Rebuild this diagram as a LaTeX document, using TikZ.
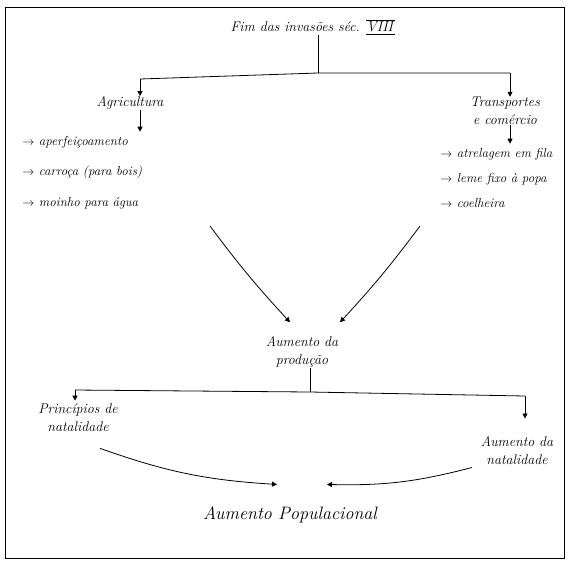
\documentclass[tikz,border=0pt]{standalone}
\usepackage{amsmath}
\usepackage{amssymb}
\usepackage{tikz}
\usetikzlibrary{arrows.meta}

\begin{document}
\begin{tikzpicture}[x=1pt,y=-1pt,line width=0.8pt,
  arr/.style={-{Triangle[length=5pt,width=5pt]}},
  txt/.style={font=\itshape\fontsize{14}{18}\selectfont,align=center},
  item/.style={font=\itshape\fontsize{13}{15}\selectfont,anchor=west}]
\tikzstyle{every node}+=[inner sep=0pt]
\useasboundingbox (0,0) rectangle (569,563);
\draw [black] (5,7) rectangle (564,558);
\node [txt] (fim) at (313,27) {Fim das invas\~oes s\'ec. $\underline{\overline{\mathit{VIII}}}$};
\coordinate (jtop) at (318,73);
\coordinate (jagri) at (140,79);
\coordinate (jtrans) at (510,73);
\draw [black] (fim.south -| jtop) -- (jtop);
\draw [black] (jagri) -- (jtop) -- (jtrans);
\node [txt] (agri) at (130,103) {Agricultura};
\node [txt] (trans) at (505,111) {Transportes\\e com\'ercio};
\draw [black,arr] (jagri) -- (agri.north -| jagri);
\draw [black,arr] (jtrans) -- (trans.north -| jtrans);
\node [item] (aper) at (22,142) {$\to$ aperfei\c coamento};
\node [item] (carr) at (22,172) {$\to$ carro\c ca (para bois)};
\node [item] (moin) at (22,203) {$\to$ moinho para \'agua};
\node [item] (atre) at (440,154) {$\to$ atrelagem em fila};
\node [item] (leme) at (440,179) {$\to$ leme fixo \`a popa};
\node [item] (coel) at (440,203) {$\to$ coelheira};
\draw [black,arr] (agri.south -| jagri) -- ([yshift=4]aper.north -| jagri);
\draw [black,arr] (trans.south -| jtrans) -- ([yshift=4]atre.north -| jtrans);
\node [txt] (prod) at (302,352) {Aumento da\\produ\c c\~ao};
\coordinate (sagri) at (210,226);
\coordinate (strans) at (420,226);
\draw [black,arr] (sagri) to[bend right=3] ([xshift=-12,yshift=14]prod.north);
\draw [black,arr] (strans) to[bend left=3] ([xshift=38,yshift=14]prod.north);
\coordinate (jprod) at (310,392);
\coordinate (jnl) at (75,390);
\coordinate (jnr) at (525,396);
\draw [black] (prod.south -| jprod) -- (jprod);
\draw [black] (jnl) -- (jprod) -- (jnr);
\node [txt] (natl) at (78,418) {Princ\'ipios de\\natalidade};
\node [txt] (natr) at (517,451) {Aumento da\\natalidade};
\draw [black,arr] (jnl) -- ([yshift=3]natl.north -| jnl);
\draw [black,arr] (jnr) -- ([yshift=18]natr.north -| jnr);
\node [txt,font=\itshape\fontsize{18}{22}\selectfont] (pop) at (290,515) {Aumento Populacional};
\draw [black,arr] ([xshift=22,yshift=-16]natl.south) to[bend right=8] ([xshift=-13,yshift=22]pop.north);
\draw [black,arr] ([xshift=-45,yshift=-2]natr.south) to[bend left=8] ([xshift=37,yshift=22]pop.north);
\end{tikzpicture}
\end{document}
